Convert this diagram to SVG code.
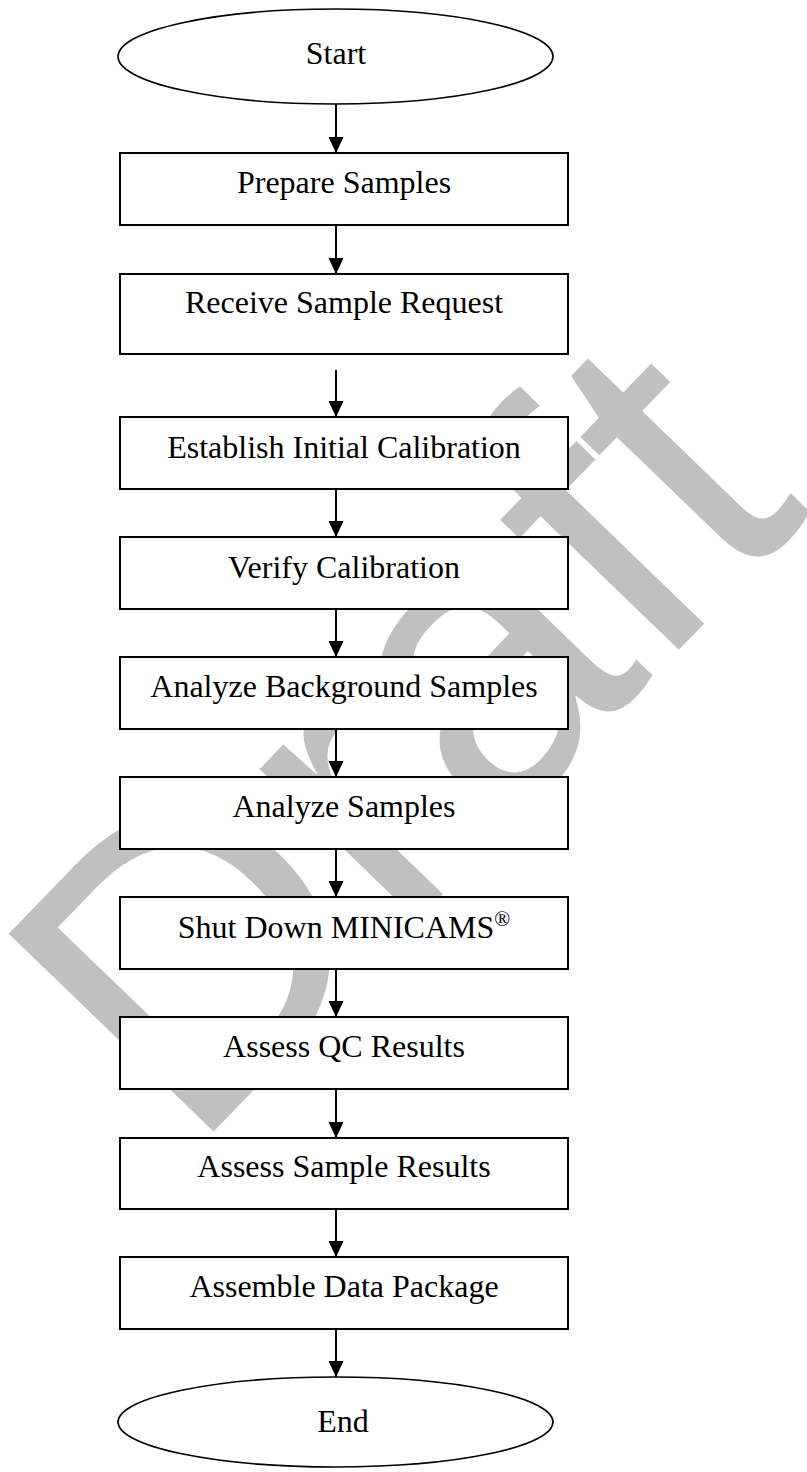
<svg xmlns="http://www.w3.org/2000/svg" width="807" height="1472" viewBox="0 0 807 1472">
  <style>
    .box { fill: #ffffff; stroke: #000000; stroke-width: 2; }
    .term { fill: #ffffff; stroke: #000000; stroke-width: 1.6; }
    .label { font-family: "Liberation Serif", "Times New Roman", serif; font-size: 32px; fill: #000000; text-anchor: middle; }
    .edge { stroke: #000000; stroke-width: 2; fill: none; marker-end: url(#arrow); }
    .mark { font-family: "Liberation Sans", Arial, sans-serif; font-size: 414px; fill: #C0C0C0; }
  </style>
  <defs>
    <marker id="arrow" markerUnits="userSpaceOnUse" markerWidth="16" markerHeight="16" refX="16" refY="7.5" orient="auto">
      <path d="M0,0 L16,7.5 L0,15 z" fill="#000000"/>
    </marker>
  </defs>
  <rect width="807" height="1472" fill="#ffffff"/>

  <!-- background watermark -->
  <g id="watermark">
    <text class="mark" x="190" y="1156" transform="rotate(-46 190 1156)">Draft</text>
  </g>

  <!-- flow arrows -->
  <g id="connectors">
    <line class="edge" x1="336" y1="104" x2="336" y2="153"/>
    <line class="edge" x1="336" y1="225" x2="336" y2="274"/>
    <line class="edge" x1="336" y1="370" x2="336" y2="417"/>
    <line class="edge" x1="336" y1="489" x2="336" y2="537"/>
    <line class="edge" x1="336" y1="609" x2="336" y2="657"/>
    <line class="edge" x1="336" y1="729" x2="336" y2="777"/>
    <line class="edge" x1="336" y1="849" x2="336" y2="897"/>
    <line class="edge" x1="336" y1="969" x2="336" y2="1017"/>
    <line class="edge" x1="336" y1="1089" x2="336" y2="1138"/>
    <line class="edge" x1="336" y1="1209" x2="336" y2="1257"/>
    <line class="edge" x1="336" y1="1329" x2="336" y2="1377"/>
  </g>

  <g id="start">
    <ellipse class="term" cx="335.5" cy="56.5" rx="217.5" ry="47.5"/>
    <text class="label" x="336" y="64">Start</text>
  </g>
  <g id="prepare-samples">
    <rect class="box" x="120" y="153" width="448" height="72"/>
    <text class="label" x="344" y="193">Prepare Samples</text>
  </g>
  <g id="receive-request">
    <rect class="box" x="120" y="274" width="448" height="80"/>
    <text class="label" x="344" y="313">Receive Sample Request</text>
  </g>
  <g id="initial-calibration">
    <rect class="box" x="120" y="417" width="448" height="72"/>
    <text class="label" x="344" y="458">Establish Initial Calibration</text>
  </g>
  <g id="verify-calibration">
    <rect class="box" x="120" y="537" width="448" height="72"/>
    <text class="label" x="344" y="578">Verify Calibration</text>
  </g>
  <g id="background-samples">
    <rect class="box" x="120" y="657" width="448" height="72"/>
    <text class="label" x="344" y="697">Analyze Background Samples</text>
  </g>
  <g id="analyze-samples">
    <rect class="box" x="120" y="777" width="448" height="72"/>
    <text class="label" x="344" y="817">Analyze Samples</text>
  </g>
  <g id="shut-down">
    <rect class="box" x="120" y="897" width="448" height="72"/>
    <text class="label" x="344" y="938">Shut Down MINICAMS<tspan font-size="21" dy="-12">®</tspan></text>
  </g>
  <g id="assess-qc">
    <rect class="box" x="120" y="1017" width="448" height="72"/>
    <text class="label" x="344" y="1057">Assess QC Results</text>
  </g>
  <g id="assess-sample">
    <rect class="box" x="120" y="1138" width="448" height="71"/>
    <text class="label" x="344" y="1177">Assess Sample Results</text>
  </g>
  <g id="data-package">
    <rect class="box" x="120" y="1257" width="448" height="72"/>
    <text class="label" x="344" y="1297">Assemble Data Package</text>
  </g>
  <g id="end">
    <ellipse class="term" cx="335.5" cy="1422" rx="217.5" ry="45"/>
    <text class="label" x="343" y="1432">End</text>
  </g>
</svg>
